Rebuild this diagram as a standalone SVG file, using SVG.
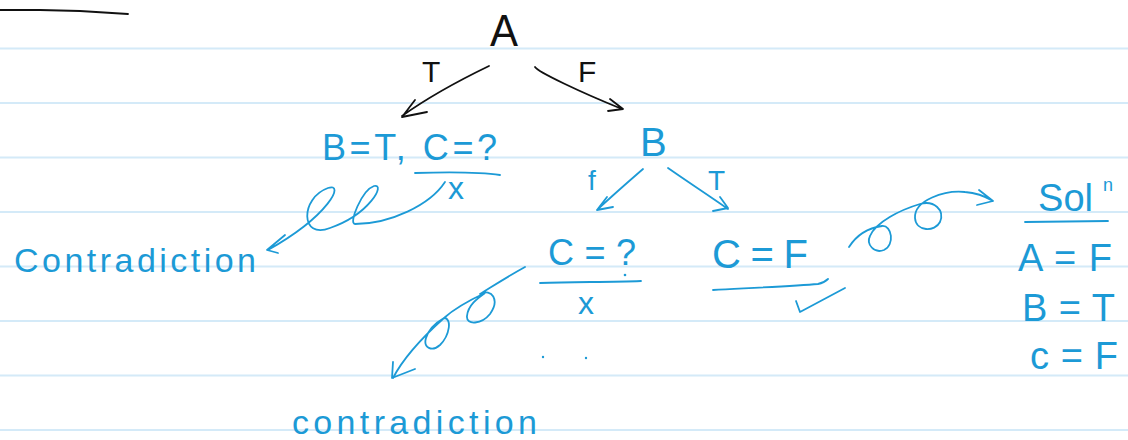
<svg xmlns="http://www.w3.org/2000/svg" width="1128" height="440" viewBox="0 0 1128 440">
<style>
.rule{stroke:#d4eaf8;stroke-width:2;fill:none}
.blk{fill:#111;font-family:"Liberation Sans",Arial,sans-serif}
.blu{fill:#1c9ad6;font-family:"Liberation Sans",Arial,sans-serif}
.ink{fill:none;stroke:#1c9ad6;stroke-width:1.8;stroke-linecap:round;stroke-linejoin:round}
.inkk{fill:none;stroke:#111;stroke-width:1.8;stroke-linecap:round;stroke-linejoin:round}
</style>
<rect width="1128" height="440" fill="#fff"/>
<g id="paper">
<line class="rule" x1="0" y1="48.5" x2="1128" y2="48.5"/>
<line class="rule" x1="0" y1="103" x2="1128" y2="103"/>
<line class="rule" x1="0" y1="157.5" x2="1128" y2="157.5"/>
<line class="rule" x1="0" y1="212" x2="1128" y2="212"/>
<line class="rule" x1="0" y1="266.5" x2="1128" y2="266.5"/>
<line class="rule" x1="0" y1="321" x2="1128" y2="321"/>
<line class="rule" x1="0" y1="375.5" x2="1128" y2="375.5"/>
<line class="rule" x1="0" y1="430" x2="1128" y2="430"/>
<path class="inkk" d="M0,10 L40,10 L80,11 L128,14"/>
</g>
<g id="connectors">
<path class="inkk" d="M489,66 C460,80 430,96 402,116 M415,100 L402,117 L427,112"/>
<path class="inkk" d="M535,67 C538,72 580,92 622,109 M610,99 L623,109 L608,111"/>
<path class="ink" d="M643,169 C628,182 612,196 597,210 M607,197 L597,210 L613,207"/>
<path class="ink" d="M668,168 C688,182 708,195 728,209 M720,197 L728,208 L713,211"/>
<path class="ink" d="M445,182 C430,205 390,224 355,224 C348,224 362,190 374,186 C386,183 370,214 330,228 C300,240 300,198 328,188 C345,182 330,215 268,250 M285,235 L267,250 L278,253"/>
<path class="ink" d="M525,267 C505,278 490,288 480,294 C492,288 500,300 490,314 C482,324 466,326 467,316 C468,305 478,298 485,293 C470,300 455,308 444,318 C452,318 450,335 440,345 C432,352 423,348 426,338 C429,328 437,322 444,318 C425,335 405,355 393,378 M393,362 L392,378 L415,369"/>
<path class="ink" d="M849,247 C856,236 868,228 882,226 C892,225 895,245 884,250 C874,254 866,244 870,236 C876,222 900,210 920,204 C934,200 945,210 940,222 C935,232 916,232 915,218 C914,200 945,190 965,192 C978,193 988,198 993,201 M979,190 L993,201 L977,205"/>
</g>
<g id="node-A"><text class="blk" x="490" y="46" font-size="44" textLength="28" lengthAdjust="spacingAndGlyphs">A</text></g>
<g id="label-T1"><text class="blk" x="422" y="82" font-size="30">T</text></g>
<g id="label-F1"><text class="blk" x="578" y="82" font-size="30">F</text></g>
<g id="node-BT">
<text class="blu" x="322" y="160" font-size="36" textLength="175" lengthAdjust="spacing">B=T, C=?</text>
<path class="ink" d="M415,173 C450,172 480,172 500,175"/>
<text class="blu" x="448" y="199" font-size="32">x</text>
</g>
<g id="node-contra1"><text class="blu" x="14" y="272" font-size="34" textLength="242" lengthAdjust="spacing">Contradiction</text></g>
<g id="node-B"><text class="blu" x="640" y="156" font-size="40">B</text></g>
<g id="label-f2"><text class="blu" x="588" y="190" font-size="28">f</text></g>
<g id="label-T2"><text class="blu" x="708" y="190" font-size="28">T</text></g>
<g id="node-Cq">
<text class="blu" x="548" y="265" font-size="36" textLength="88" lengthAdjust="spacing">C=?</text>
<circle cx="625" cy="275" r="1.3" fill="#1c9ad6"/>
<path class="ink" d="M540,283 C575,282 610,282 641,281"/>
<text class="blu" x="578" y="314" font-size="32">x</text>
<circle cx="543" cy="357" r="1.2" fill="#1c9ad6"/>
<circle cx="586" cy="358" r="1.2" fill="#1c9ad6"/>
</g>
<g id="node-CF">
<text class="blu" x="712" y="268" font-size="40" textLength="96" lengthAdjust="spacing">C = F</text>
<path class="ink" d="M713,290 C750,288 795,286 818,284 C823,283 826,281 828,279"/>
<path class="ink" d="M796,301 L800,312 L845,288"/>
</g>
<g id="node-contra2"><text class="blu" x="292" y="434" font-size="34" textLength="245" lengthAdjust="spacing">contradiction</text></g>
<g id="node-sol">
<text class="blu" x="1038" y="211" font-size="38" textLength="55" lengthAdjust="spacing">Sol</text>
<text class="blu" x="1103" y="191" font-size="18">n</text>
<path class="ink" d="M1025,222 L1108,221"/>
<text class="blu" x="1018" y="271" font-size="38" textLength="94" lengthAdjust="spacing">A = F</text>
<text class="blu" x="1022" y="321" font-size="38" textLength="93" lengthAdjust="spacing">B = T</text>
<text class="blu" x="1030" y="369" font-size="38" textLength="88" lengthAdjust="spacing">c = F</text>
</g>
</svg>
